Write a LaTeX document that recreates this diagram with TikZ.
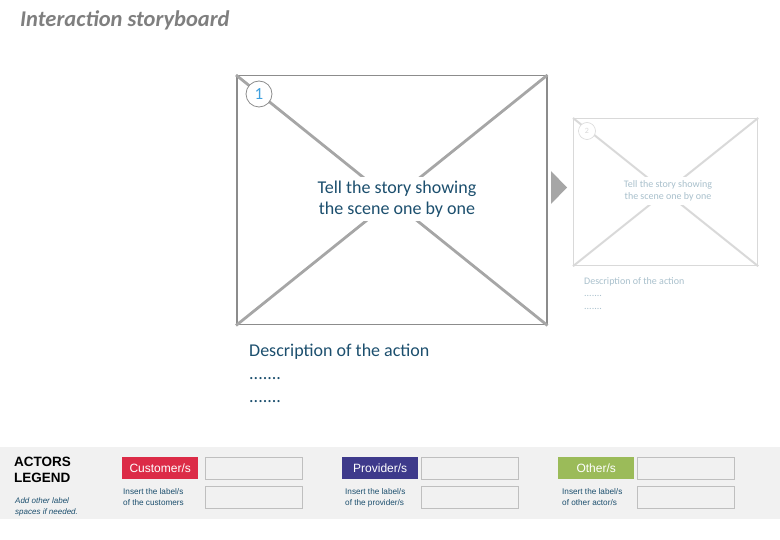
\documentclass[tikz,border=0pt]{standalone}
\usepackage{fontspec}
\setmainfont{Carlito}
\newfontfamily\arialfont{Liberation Sans}
\definecolor{titlegray}{HTML}{7F7F7F}
\definecolor{storyteal}{HTML}{1C4F6E}
\definecolor{framegray}{HTML}{8C8C8C}
\definecolor{crossgray}{HTML}{A6A6A6}
\definecolor{numblue}{HTML}{3FA0DF}
\definecolor{fadegray}{HTML}{D9D9D9}
\definecolor{fadetext}{HTML}{A9C0CC}
\definecolor{bandgray}{HTML}{F1F1F1}
\definecolor{boxgray}{HTML}{BFBFBF}
\definecolor{custred}{HTML}{DC2B47}
\definecolor{provpurple}{HTML}{3E3A8B}
\definecolor{othgreen}{HTML}{9BBB59}
\begin{document}
\begin{tikzpicture}[x=1pt,y=-1pt,
	scenebox/.style={draw,rectangle,inner sep=0pt,anchor=north west},
	actorbox/.style={rectangle,inner sep=0pt,anchor=north west,minimum width=76,minimum height=22,text=white,font=\arialfont\fontsize{12}{14}\selectfont},
	labelbox/.style={draw=boxgray,line width=1.2pt,rectangle,inner sep=0pt,anchor=north west,minimum width=97,minimum height=22},
	insertlabel/.style={anchor=north west,align=left,inner sep=0pt,text=storyteal,font=\arialfont\fontsize{8.2}{11}\selectfont}]
	\useasboundingbox (0,0) rectangle (780,540);
	\node[anchor=west,inner sep=0pt,text=titlegray,font=\fontsize{22.5}{26}\selectfont\bfseries\itshape] (title) at (20,20) {Interaction storyboard};
	
	% scene 1
	\node[scenebox,draw=framegray,line width=1.5pt,minimum width=310,minimum height=249] (sceneA) at (236,75) {};
	\draw[crossgray,line width=2.8pt] (sceneA.north west) -- (sceneA.south east);
	\draw[crossgray,line width=2.8pt] (sceneA.north east) -- (sceneA.south west);
	\node[circle,draw=framegray,fill=white,line width=0.8pt,minimum size=26,inner sep=0pt,text=numblue,font=\fontsize{17}{17}\selectfont] (numA) at (259,94) {1};
	\node[fill=white,align=center,text=storyteal,inner sep=4pt,font=\fontsize{18}{21}\selectfont] (storyA) at (397,199) {Tell the story showing\\the scene one by one};
	\node[anchor=north west,align=left,inner sep=0pt,text=storyteal,font=\fontsize{18}{23}\selectfont] (descA) at (249,344) {Description of the action\\.......\\.......};
	
	% arrow between scenes
	\fill[crossgray] (551,171) -- (567,187.5) -- (551,204) -- cycle;
	
	% scene 2
	\node[scenebox,draw=fadegray,line width=1.2pt,minimum width=184,minimum height=147] (sceneB) at (573,118) {};
	\draw[fadegray,line width=2pt] (sceneB.north west) -- (sceneB.south east);
	\draw[fadegray,line width=2pt] (sceneB.north east) -- (sceneB.south west);
	\node[circle,draw=fadegray,fill=white,line width=0.6pt,minimum size=17,inner sep=0pt,text=fadegray,font=\fontsize{8}{8}\selectfont] (numB) at (587,131) {2};
	\node[fill=white,align=center,text=fadetext,inner sep=3pt,font=\fontsize{10}{12.5}\selectfont] (storyB) at (668,191) {Tell the story showing\\the scene one by one};
	\node[anchor=north west,align=left,inner sep=0pt,text=fadetext,font=\fontsize{10}{12.5}\selectfont] (descB) at (584,277) {Description of the action\\.......\\.......};
	
	% actors legend
	\fill[bandgray] (0,447) rectangle (780,519);
	\node[anchor=north west,align=left,inner sep=0pt,font=\arialfont\bfseries\fontsize{13.5}{16}\selectfont] (legend) at (14,457) {ACTORS\\LEGEND};
	\node[anchor=north west,align=left,inner sep=0pt,text=storyteal,font=\arialfont\itshape\fontsize{8}{11}\selectfont] (addnote) at (15,498) {Add other label\\spaces if needed.};
	
	\node[actorbox,fill=custred] (cust) at (122,457) {Customer/s};
	\node[labelbox] (custA) at (205,457) {};
	\node[labelbox] (custB) at (205,486) {};
	\node[insertlabel] (custtxt) at (123,488) {Insert the label/s\\of the customers};
	
	\node[actorbox,fill=provpurple] (prov) at (342,457) {Provider/s};
	\node[labelbox] (provA) at (421,457) {};
	\node[labelbox] (provB) at (421,486) {};
	\node[insertlabel] (provtxt) at (345,488) {Insert the label/s\\of the provider/s};
	
	\node[actorbox,fill=othgreen] (oth) at (558,457) {Other/s};
	\node[labelbox] (othA) at (637,457) {};
	\node[labelbox] (othB) at (637,486) {};
	\node[insertlabel] (othtxt) at (562,488) {Insert the label/s\\of other actor/s};
\end{tikzpicture}
\end{document}
